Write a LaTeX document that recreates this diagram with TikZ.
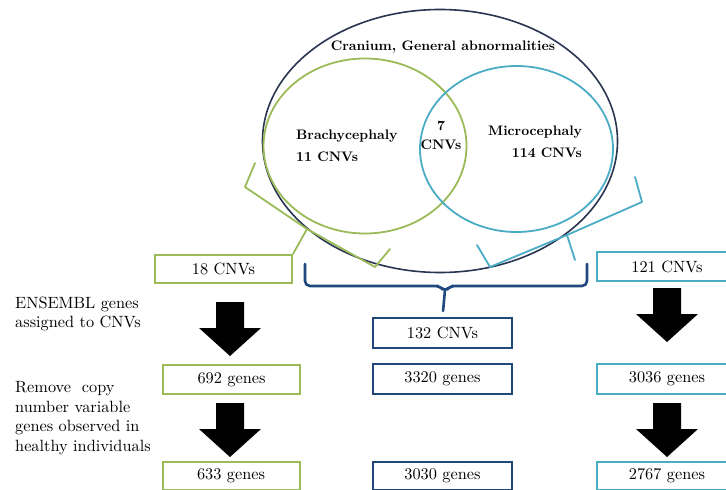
\documentclass[tikz,border=0pt]{standalone}
\usepackage{fontspec}
\setmainfont{lmroman10-regular.otf}[BoldFont=lmroman10-bold.otf]
\usetikzlibrary{shapes.geometric}
\definecolor{grn}{HTML}{9BBB59}
\definecolor{aqua}{HTML}{4BACC6}
\definecolor{navy}{HTML}{1F497D}
\definecolor{ellc}{HTML}{2A3552}
\tikzset{
  box/.style={draw, line width=2pt, minimum width=137pt, minimum height=28pt, inner sep=0pt,
    font=\fontsize{16.3}{19}\selectfont},
  gbox/.style={box, draw=grn},
  nbox/.style={box, draw=navy},
  abox/.style={box, draw=aqua, minimum width=140pt},
  vlab/.style={inner sep=0pt, font=\fontsize{13.8}{16}\selectfont\bfseries},
  side/.style={inner sep=0pt, align=left, font=\fontsize{16.3}{19.4}\selectfont},
  bracket/.style={line width=1.8pt, line join=round, line cap=round},
  blockarr/.pic={\fill[black] (-14,0)--(14,0)--(14,26)--(31,26)--(0,54)--(-31,26)--(-14,26)--cycle;}
}
\begin{document}
\begin{tikzpicture}[x=1pt,y=-1pt]
\useasboundingbox (0,0) rectangle (726,490);
\clip (0,0) rectangle (726,490);
\fill[white] (0,0) rectangle (726,490);

% Venn
\node (outer) [ellipse, draw=ellc, line width=1.6pt, minimum width=355pt, minimum height=263pt, inner sep=0pt] at (440,141) {};
\node (brachy) [ellipse, draw=grn, line width=1.8pt, minimum width=203pt, minimum height=175pt, inner sep=0pt] at (365,146) {};
\node (micro) [ellipse, draw=aqua, line width=1.8pt, minimum width=193pt, minimum height=166pt, inner sep=0pt] at (516.5,149) {};

\node (title) [vlab, anchor=base] at (443,50) {Cranium, General abnormalities};
\node (bl1) [vlab, anchor=base west] at (296,139) {Brachycephaly};
\node (bl2) [vlab, anchor=base west] at (296,161) {11 CNVs};
\node (il1) [vlab, anchor=base] at (441,130) {7};
\node (il2) [vlab, anchor=base] at (441,149) {CNVs};
\node (ml1) [vlab, anchor=base west] at (488,135) {Microcephaly};
\node (ml2) [vlab, anchor=base east] at (582,157) {114 CNVs};

% boxes
\node (b18) [gbox] at (223.5,269) {18 CNVs};
\node (g692) [gbox, minimum height=29pt] at (231.5,379.5) {692 genes};
\node (g633) [gbox] at (231,476) {633 genes};
\node (c132) [nbox, minimum width=139pt, minimum height=30pt] at (442.5,333) {132 CNVs};
\node (g3320) [nbox, minimum width=139pt, minimum height=30pt] at (442.5,379) {3320 genes};
\node (g3030) [nbox, minimum width=139pt] at (442.5,476) {3030 genes};
\node (c121) [abox, minimum height=29pt] at (667,266.5) {121 CNVs};
\node (g3036) [abox, minimum height=30pt] at (667,379) {3036 genes};
\node (g2767) [abox] at (667,476) {2767 genes};

% side labels
\node (ens) [side, anchor=west] at (15,314) {ENSEMBL genes\\assigned to CNVs};
\node (rem) [side, anchor=west] at (15,418) {Remove~ copy\\number variable\\genes observed in\\healthy individuals};

% brackets
\coordinate (gtip) at (307,229);
\draw[bracket, grn] (255,163) -- (245,187) -- (gtip) -- (375,267) -- (390,249);
\draw[bracket, grn] (gtip) -- (b18.north east);
\coordinate (atip) at (567,235);
\draw[bracket, aqua] (635,177) -- (642,202) -- (atip) -- (490,267) -- (477,245);
\draw[bracket, aqua] (atip) -- (575,260);
\draw[line width=2.6pt, navy, rounded corners=5pt, line cap=round]
  (305,264) -- (305,286) -- (440,286) -- (445,292) -- (450,286) -- (587,286) -- (587,264);
\draw[line width=2.6pt, navy, line cap=round, shorten >=6pt] (445,290) -- (c132.north);

% block arrows
\pic at (230,302) {blockarr};
\pic at (230,403) {blockarr};
\pic at (667,288) {blockarr};
\pic at (667,403) {blockarr};
\end{tikzpicture}
\end{document}
